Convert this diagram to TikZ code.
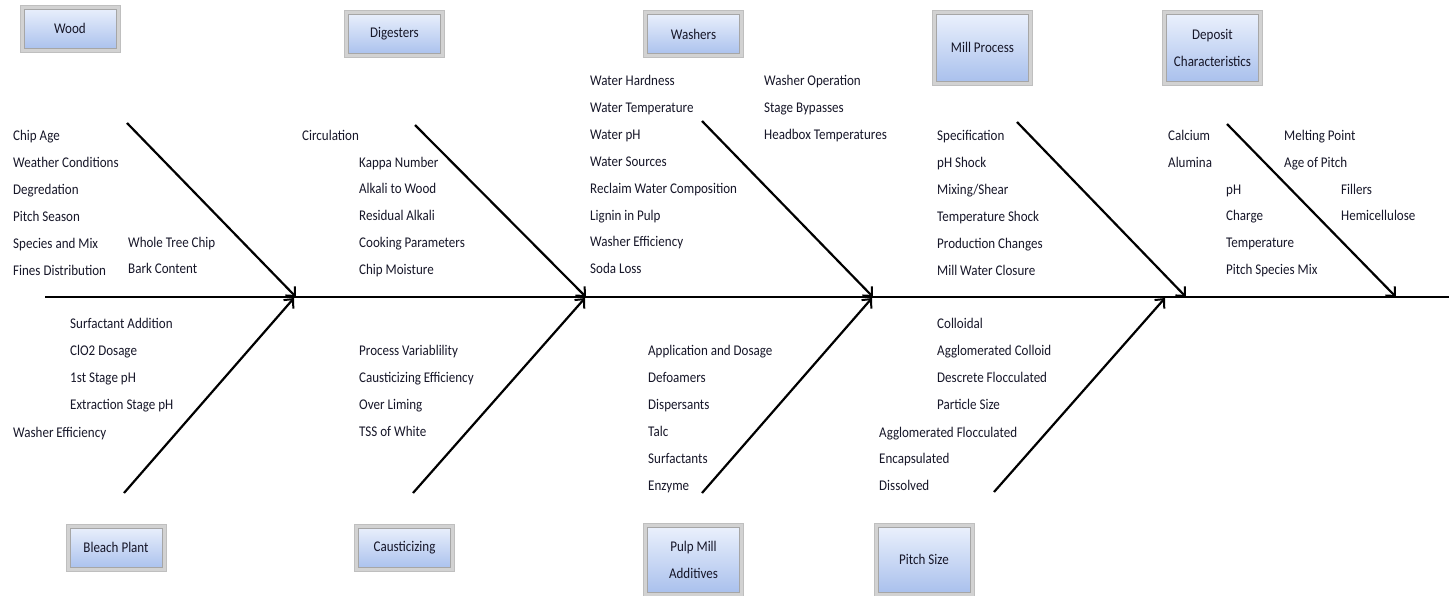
\documentclass[tikz,border=0pt]{standalone}
\usepackage{fontspec}
\setmainfont{Carlito}[FakeStretch=0.88]
\usetikzlibrary{positioning,arrows.meta}

\definecolor{itemtext}{RGB}{22,22,40}
\definecolor{boxtop}{RGB}{238,243,253}
\definecolor{boxbottom}{RGB}{166,190,236}

\tikzset{
  item/.style={font=\fontsize{14.8}{16}\selectfont, text=itemtext, inner sep=0pt,
    text height=10pt, text depth=3pt, anchor=west},
  catbox/.style={rectangle, minimum width=100pt, minimum height=47pt, inner sep=0pt,
    align=center, font=\fontsize{14.8}{27}\selectfont, text=itemtext, fill=gray!35, draw=gray!50,
    line width=0.8pt,
    path picture={\shade[top color=boxtop, bottom color=boxbottom, draw=gray!70, line width=0.8pt]
      ([shift={(4pt,4pt)}]path picture bounding box.south west) rectangle
      ([shift={(-4pt,-4pt)}]path picture bounding box.north east);}},
  bone/.style={line width=2.2pt, -{Straight Barb[length=7pt,width=13pt,line width=2pt]}},
  spine/.style={line width=2.6pt}
}

\begin{document}
\begin{tikzpicture}[x=1pt, y=-1pt, node distance=26.9pt]
        \useasboundingbox (0,0) rectangle (1449,595);

        % Category boxes
        \node (wood) [catbox] at (70,28.5) {Wood};
        \node (digesters) [catbox] at (394.5,33.5) {Digesters};
        \node (washers) [catbox] at (693.5,34) {Washers};
        \node (millproc) [catbox, minimum height=75pt] at (982.5,47.5) {Mill Process};
        \node (deposit) [catbox, minimum height=75pt] at (1212.5,47.5) {Deposit\\Characteristics};
        \node (bleach) [catbox] at (116,547.5) {Bleach Plant};
        \node (caustic) [catbox] at (404.5,547.5) {Causticizing};
        \node (additives) [catbox, minimum height=73pt] at (693.5,559.5) {Pulp Mill\\Additives};
        \node (pitchsize) [catbox, minimum height=73pt] at (924,559.5) {Pitch Size};

        % Wood
        \node (chipage) [item] at (13,137) {Chip Age};
        \node (weather) [item, below=of chipage.west, anchor=west] {Weather Conditions};
        \node (degred) [item, below=of weather.west, anchor=west] {Degredation};
        \node (pitchseason) [item, below=of degred.west, anchor=west] {Pitch Season};
        \node (species) [item, below=of pitchseason.west, anchor=west] {Species and Mix};
        \node (fines) [item, below=of species.west, anchor=west] {Fines Distribution};
        \node (wholetree) [item] at (128,243.5) {Whole Tree Chip};
        \node (bark) [item, below=of wholetree.west, anchor=west] {Bark Content};

        % Digesters
        \node (circulation) [item] at (302,137) {Circulation};
        \node (kappa) [item] at (359,163.5) {Kappa Number};
        \node (alkwood) [item, below=of kappa.west, anchor=west] {Alkali to Wood};
        \node (residalk) [item, below=of alkwood.west, anchor=west] {Residual Alkali};
        \node (cooking) [item, below=of residalk.west, anchor=west] {Cooking Parameters};
        \node (chipmoist) [item, below=of cooking.west, anchor=west] {Chip Moisture};

        % Washers
        \node (hardness) [item] at (590,82) {Water Hardness};
        \node (watertemp) [item, below=of hardness.west, anchor=west] {Water Temperature};
        \node (waterph) [item, below=of watertemp.west, anchor=west] {Water pH};
        \node (sources) [item, below=of waterph.west, anchor=west] {Water Sources};
        \node (reclaim) [item, below=of sources.west, anchor=west] {Reclaim Water Composition};
        \node (lignin) [item, below=of reclaim.west, anchor=west] {Lignin in Pulp};
        \node (washeff) [item, below=of lignin.west, anchor=west] {Washer Efficiency};
        \node (sodaloss) [item, below=of washeff.west, anchor=west] {Soda Loss};
        \node (washerop) [item] at (764,82) {Washer Operation};
        \node (bypass) [item, below=of washerop.west, anchor=west] {Stage Bypasses};
        \node (headbox) [item, below=of bypass.west, anchor=west] {Headbox Temperatures};

        % Mill Process
        \node (spec) [item] at (937,137) {Specification};
        \node (phshock) [item, below=of spec.west, anchor=west] {pH Shock};
        \node (mixing) [item, below=of phshock.west, anchor=west] {Mixing/Shear};
        \node (tempshock) [item, below=of mixing.west, anchor=west] {Temperature Shock};
        \node (prodchange) [item, below=of tempshock.west, anchor=west] {Production Changes};
        \node (closure) [item, below=of prodchange.west, anchor=west] {Mill Water Closure};

        % Deposit Characteristics
        \node (calcium) [item] at (1168,137) {Calcium};
        \node (alumina) [item, below=of calcium.west, anchor=west] {Alumina};
        \node (melting) [item] at (1284,137) {Melting Point};
        \node (agepitch) [item, below=of melting.west, anchor=west] {Age of Pitch};
        \node (depph) [item] at (1226,190.5) {pH};
        \node (charge) [item, below=of depph.west, anchor=west] {Charge};
        \node (deptemp) [item, below=of charge.west, anchor=west] {Temperature};
        \node (speciesmix) [item, below=of deptemp.west, anchor=west] {Pitch Species Mix};
        \node (fillers) [item] at (1341,190.5) {Fillers};
        \node (hemi) [item, below=of fillers.west, anchor=west] {Hemicellulose};

        % Bleach Plant
        \node (surfadd) [item] at (70,325) {Surfactant Addition};
        \node (clodose) [item, below=of surfadd.west, anchor=west] {ClO2 Dosage};
        \node (firstph) [item, below=of clodose.west, anchor=west] {1st Stage pH};
        \node (extrph) [item, below=of firstph.west, anchor=west] {Extraction Stage pH};
        \node (blwasheff) [item] at (13,433.5) {Washer Efficiency};

        % Causticizing
        \node (procvar) [item] at (359,352) {Process Variablility};
        \node (causteff) [item, below=of procvar.west, anchor=west] {Causticizing Efficiency};
        \node (overlime) [item, below=of causteff.west, anchor=west] {Over Liming};
        \node (tss) [item, below=of overlime.west, anchor=west] {TSS of White};

        % Pulp Mill Additives
        \node (appdose) [item] at (648,352) {Application and Dosage};
        \node (defoam) [item, below=of appdose.west, anchor=west] {Defoamers};
        \node (dispers) [item, below=of defoam.west, anchor=west] {Dispersants};
        \node (talc) [item, below=of dispers.west, anchor=west] {Talc};
        \node (surfact) [item, below=of talc.west, anchor=west] {Surfactants};
        \node (enzyme) [item, below=of surfact.west, anchor=west] {Enzyme};

        % Pitch Size
        \node (colloidal) [item] at (937,325) {Colloidal};
        \node (aggcolloid) [item, below=of colloidal.west, anchor=west] {Agglomerated Colloid};
        \node (descrete) [item, below=of aggcolloid.west, anchor=west] {Descrete Flocculated};
        \node (partsize) [item, below=of descrete.west, anchor=west] {Particle Size};
        \node (aggfloc) [item] at (879,433.5) {Agglomerated Flocculated};
        \node (encaps) [item, below=of aggfloc.west, anchor=west] {Encapsulated};
        \node (dissolved) [item, below=of encaps.west, anchor=west] {Dissolved};

        % Bone ends
        \coordinate (spinestart) at (45,297);
        \coordinate (spineend) at (1449,297);
        \coordinate (woodtail) at (127,123);
        \coordinate (woodhead) at (296,297);
        \coordinate (digtail) at (415,125);
        \coordinate (dighead) at (586,297);
        \coordinate (washtail) at (702,121);
        \coordinate (washhead) at (873,297);
        \coordinate (milltail) at (1017,122);
        \coordinate (millhead) at (1186,297);
        \coordinate (deptail) at (1227,124);
        \coordinate (dephead) at (1396,297);
        \coordinate (bleachtail) at (124,493);
        \coordinate (bleachhead) at (294,298);
        \coordinate (caustail) at (413,493);
        \coordinate (caushead) at (585,298);
        \coordinate (addtail) at (702,493);
        \coordinate (addhead) at (872,298);
        \coordinate (sizetail) at (994,492);
        \coordinate (sizehead) at (1165,298);

        % Edges
        \draw[spine] (spinestart) -- (spineend);
        \draw[bone] (woodtail) -- (woodhead);
        \draw[bone] (digtail) -- (dighead);
        \draw[bone] (washtail) -- (washhead);
        \draw[bone] (milltail) -- (millhead);
        \draw[bone] (deptail) -- (dephead);
        \draw[bone] (bleachtail) -- (bleachhead);
        \draw[bone] (caustail) -- (caushead);
        \draw[bone] (addtail) -- (addhead);
        \draw[bone] (sizetail) -- (sizehead);
    \end{tikzpicture}
\end{document}
